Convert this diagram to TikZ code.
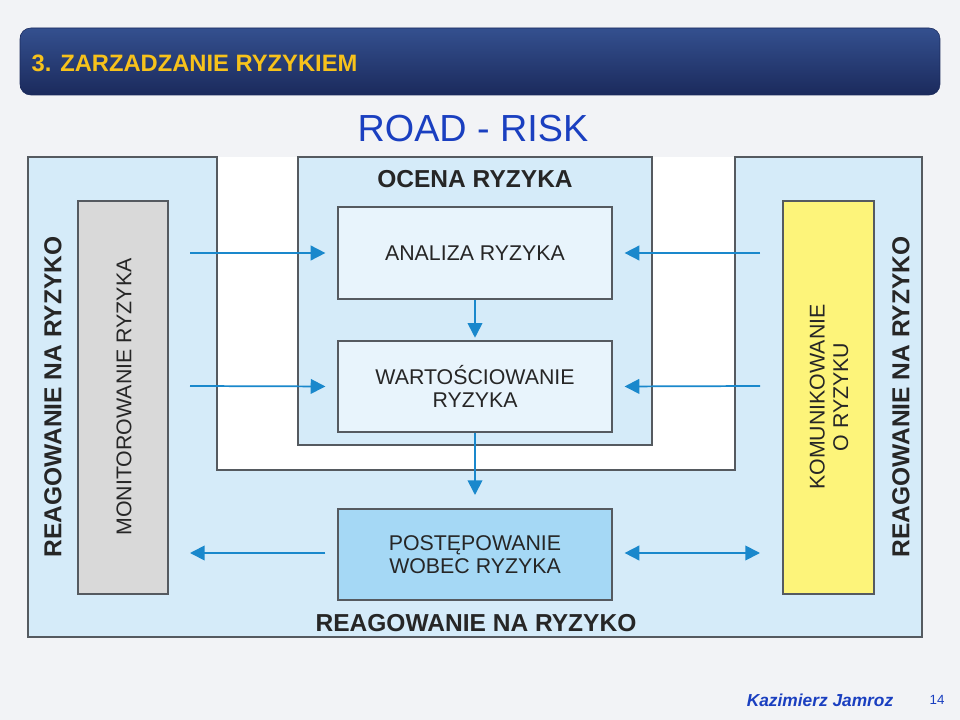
\documentclass[tikz,border=0pt]{standalone}
\usepackage{fontspec}
\setmainfont{Liberation Sans}
\usetikzlibrary{arrows.meta}
\definecolor{bg}{HTML}{F2F3F6}
\definecolor{lb}{HTML}{D5EBF9}
\definecolor{ib}{HTML}{E8F4FC}
\definecolor{pb}{HTML}{A5D8F5}
\definecolor{navyA}{HTML}{34508F}
\definecolor{navyB}{HTML}{1B2A5C}
\definecolor{gold}{HTML}{F7C21B}
\definecolor{ttl}{HTML}{1A3FC0}
\definecolor{arr}{HTML}{1A88CC}
\definecolor{ylw}{HTML}{FDF47A}
\definecolor{gry}{HTML}{D9D9D9}
\definecolor{bd}{HTML}{555A60}
\tikzset{
 frame/.style={draw=bd,line width=0.9pt},
 boxtext/.style={font=\fontsize{16}{17.5}\selectfont,align=center,text=black!85},
 bold/.style={font=\fontsize{18.4}{20}\selectfont\bfseries,text=black!85},
 arrowline/.style={draw=arr,line width=1.3pt,-{Triangle[length=11pt,width=11pt]}},
 darrowline/.style={draw=arr,line width=1.3pt,{Triangle[length=11pt,width=11pt]}-{Triangle[length=11pt,width=11pt]}},
}
\begin{document}
\begin{tikzpicture}[x=0.75pt,y=-0.75pt]
\fill[bg] (0,0) rectangle (960,720);
\useasboundingbox (0,0) rectangle (960,720);
% header
\shade[top color=navyA,bottom color=navyB,rounded corners=8pt,draw=navyB] (20,28) rectangle (940,95);
\node[anchor=west,text=gold,font=\fontsize{17.8}{19}\selectfont\bfseries] (hdr) at (27,63) {3. ZARZADZANIE RYZYKIEM};
\node[text=ttl,font=\fontsize{28.3}{30}\selectfont] (title) at (473,129) {ROAD - RISK};
% outer frame
\fill[white] (217,157) rectangle (735,470);
\draw[frame,fill=lb] (28,157) -- (217,157) -- (217,470) -- (735,470) -- (735,157) -- (922,157) -- (922,637) -- (28,637) -- cycle;
\draw[frame,fill=lb] (298,157) rectangle (652,445);
% boxes
\draw[frame,fill=gry] (78,201) rectangle (168,594);
\draw[frame,fill=ylw] (783,201) rectangle (874,594);
\node[frame,fill=ib,boxtext,minimum width=274*0.75pt,minimum height=92*0.75pt] (an) at (475,253) {ANALIZA RYZYKA};
\node[frame,fill=ib,boxtext,minimum width=274*0.75pt,minimum height=91*0.75pt] (wa) at (475,386.5) {WARTOŚCIOWANIE\\RYZYKA};
\node[frame,fill=pb,boxtext,minimum width=274*0.75pt,minimum height=91*0.75pt] (po) at (475,554.5) {POSTĘPOWANIE\\WOBEC RYZYKA};
\node[boxtext,rotate=90] (mon) at (124,397) {MONITOROWANIE RYZYKA};
\node[boxtext,rotate=90] (kom) at (829,397) {KOMUNIKOWANIE\\O RYZYKU};
\node[bold,rotate=90] (rl) at (53,397) {REAGOWANIE NA RYZYKO};
\node[bold,rotate=90] (rr) at (901,397) {REAGOWANIE NA RYZYKO};
\node[bold] (oc) at (475,179) {OCENA RYZYKA};
\node[bold] (rb) at (476,623) {REAGOWANIE NA RYZYKO};
% arrow endpoints
\coordinate (l1) at (190,253); \coordinate (l2) at (190,386); \coordinate (l3) at (190,553);
\coordinate (r1) at (760,253); \coordinate (r2) at (760,386); \coordinate (r3) at (760,553);
\coordinate (d1) at (475,495);
\draw[arrowline,shorten >=9pt] (l1) -- (an.west);
\draw[arrowline,shorten >=9pt] (l2) -- (wa.west);
\draw[arrowline,shorten >=9pt] (r1) -- (an.east);
\draw[arrowline,shorten >=9pt] (r2) -- (wa.east);
\draw[arrowline,shorten <=9pt] (po.west|-l3) -- (l3);
\draw[darrowline,shorten <=9pt] (po.east|-r3) -- (r3);
\draw[arrowline,shorten >=2pt] (an.south) -- (wa.north);
\draw[arrowline] (wa.south) -- (d1);
% footer
\node[text=ttl,font=\fontsize{13}{14}\selectfont\bfseries\itshape] (auth) at (820,700) {Kazimierz Jamroz};
\node[text=ttl,font=\fontsize{10}{11}\selectfont] (pg) at (937,700) {14};
\end{tikzpicture}
\end{document}
